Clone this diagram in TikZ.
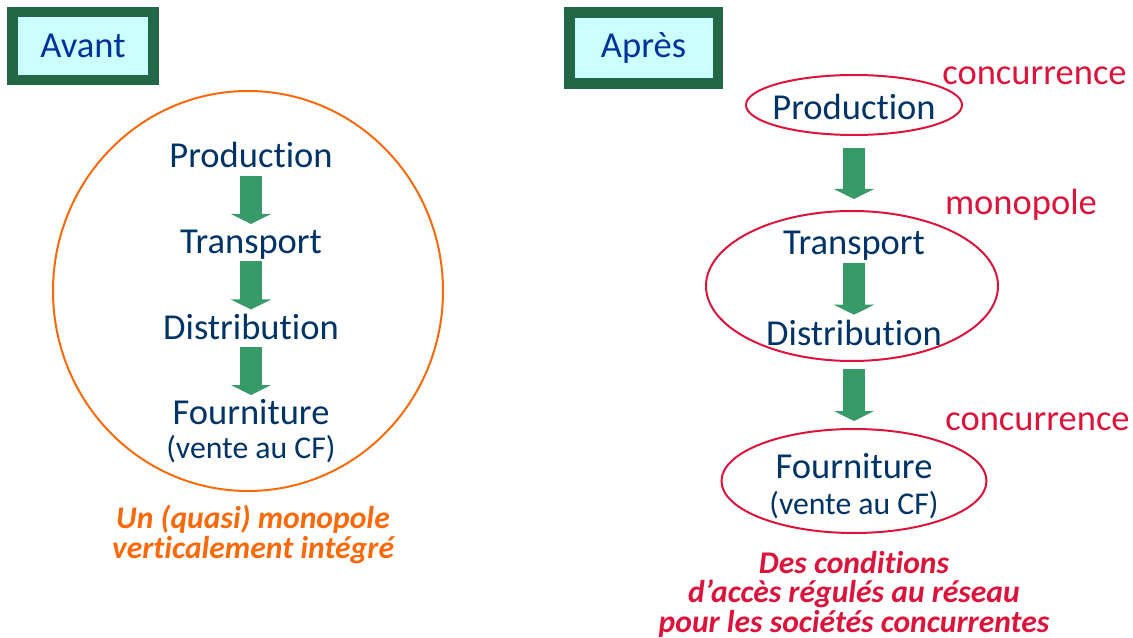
\documentclass[tikz,border=0pt]{standalone}
\usepackage{fontspec}
\setmainfont{Carlito}[Ligatures=NoCommon]
\usepackage{xcolor}
\usepackage{tikz}
\usetikzlibrary{shapes.geometric,arrows.meta,positioning}
\definecolor{tagborder}{RGB}{35,104,70}
\definecolor{tagfill}{RGB}{204,255,255}
\definecolor{tagtext}{RGB}{0,51,153}
\definecolor{stagenavy}{RGB}{0,51,102}
\definecolor{flowgreen}{RGB}{56,154,104}
\definecolor{marketred}{RGB}{220,20,60}
\definecolor{vertorange}{RGB}{250,105,10}
\newcommand{\stagesize}{\fontsize{27.4pt}{33pt}\selectfont}
\newcommand{\subsize}{\fontsize{23.8pt}{28pt}\selectfont}
\newcommand{\notesize}{\fontsize{23.7pt}{22pt}\selectfont}
\tikzset{
    tag/.style={rectangle, draw=tagborder, line width=7.9pt, fill=tagfill, text=tagtext, font=\stagesize, inner sep=0pt},
    stage/.style={text=stagenavy, font=\stagesize, inner sep=0pt, text height=20pt, text depth=5.5pt},
    substage/.style={text=stagenavy, font=\subsize, inner sep=0pt, text height=17pt, text depth=4.8pt},
    flow/.style={draw=flowgreen, line width=16.5pt, -{Triangle[width=30pt,length=7.5pt]}},
    oval/.style={ellipse, draw=marketred, line width=1.5pt, inner sep=0pt},
    market/.style={text=marketred, font=\stagesize, inner sep=0pt, anchor=base},
    note/.style={font=\notesize\bfseries\itshape, align=center, inner sep=0pt, anchor=north}
}

\begin{document}
\begin{tikzpicture}[x=0.75pt, y=-0.75pt]
    \useasboundingbox (0,0) rectangle (1133,638);

    % Before: one integrated firm
    \node [tag, minimum width=106.1pt, minimum height=51pt] (avant) at (83,46) {Avant};
    \node [ellipse, draw=vertorange, line width=1.5pt, minimum width=292.5pt, minimum height=300pt, inner sep=0pt] (whole) at (248,291) {};
    \node [stage, anchor=base] (prodL) at (251,168) {Production};
    \node [stage, below=38.25pt of prodL] (transL) {Transport};
    \node [stage, below=38.25pt of transL] (distL) {Distribution};
    \node [stage, below=38.25pt of distL] (fournL) {Fourniture};
    \node [substage, below=2.25pt of fournL] (venteL) {(vente au CF)};
    \node [note, text=vertorange] (noteL) at (253,505) {Un (quasi) monopole\\verticalement intégré};

    \path [flow, shorten >=2pt] (prodL) -- (transL);
    \path [flow, shorten >=2pt] (transL) -- (distL);
    \path [flow, shorten >=2pt] (distL) -- (fournL);

    % After: unbundled activities
    \node [tag, minimum width=111.4pt, minimum height=53.6pt] (apres) at (643.5,48) {Après};
    \node [oval, minimum width=162pt, minimum height=45pt] (prodE) at (854,105) {};
    \node [stage, anchor=base] (prodR) at (854,120) {Production};
    \node [oval, minimum width=219pt, minimum height=112.5pt] (netE) at (852,286) {};
    \node [stage, anchor=base] (transR) at (854,255) {Transport};
    \node [stage, anchor=base] (distR) at (854,345) {Distribution};
    \node [oval, minimum width=198.75pt, minimum height=78pt] (fournE) at (854,481) {};
    \node [stage, anchor=base] (fournR) at (854,478) {Fourniture};
    \node [substage, anchor=base] (venteR) at (854,514) {(vente au CF)};

    \path [flow, shorten <=9pt, shorten >=8.25pt] (prodE.south) -- (prodE.south |- netE.north);
    \path [flow, shorten >=2.5pt] (transR) -- (distR);
    \path [flow, shorten <=5.25pt, shorten >=5.25pt] (fournE.north |- netE.south) -- (fournE.north);

    % Market labels
    \node [market] (compProd) at (1034.5,85) {concurrence};
    \node [market] (monoNet) at (1021,215) {monopole};
    \node [market] (compSupply) at (1037.5,431) {concurrence};
    \node [note, text=marketred] (noteR) at (854,551) {Des conditions\\d’accès régulés au réseau\\pour les sociétés concurrentes};
\end{tikzpicture}
\end{document}
